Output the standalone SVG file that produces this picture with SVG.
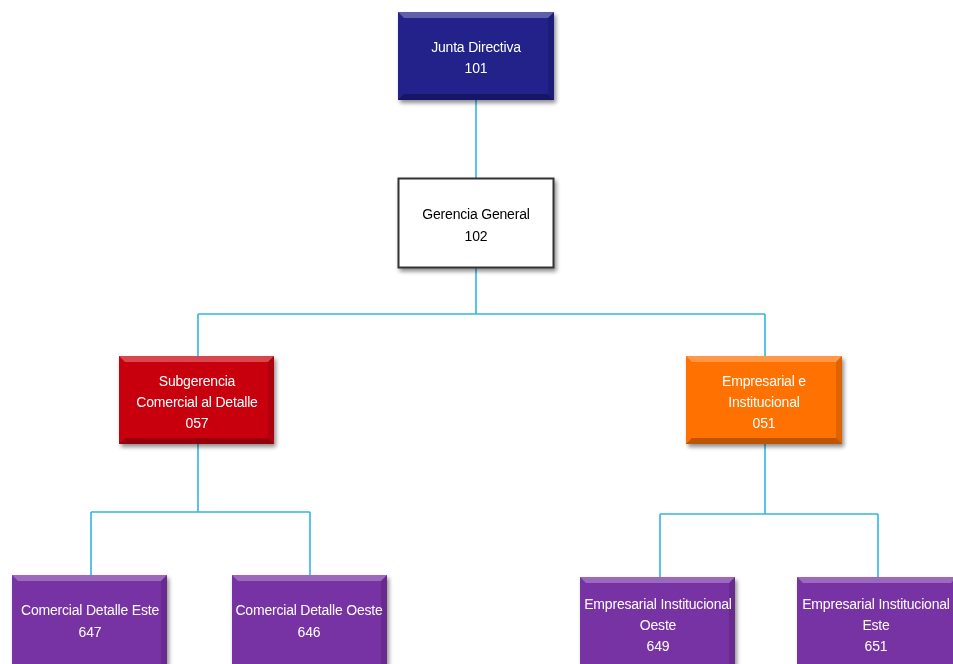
<svg xmlns="http://www.w3.org/2000/svg" width="953" height="664" viewBox="0 0 953 664">
<defs>
<filter id="sh" x="-10%" y="-10%" width="125%" height="130%">
<feGaussianBlur in="SourceAlpha" stdDeviation="2"/>
<feOffset dx="2" dy="3" result="b"/>
<feComponentTransfer><feFuncA type="linear" slope="0.45"/></feComponentTransfer>
<feMerge><feMergeNode/><feMergeNode in="SourceGraphic"/></feMerge>
</filter>
</defs>
<style>
.conn{fill:none;stroke:#33b5e5;stroke-width:1.6}
.t{font-family:"Liberation Sans",Arial,sans-serif;font-size:14px;text-anchor:middle;fill:#ffffff;letter-spacing:-0.2px}
.tb{fill:#000000}
.hl{fill:#ffffff;opacity:0.28}
.dk{fill:#000000;opacity:0.25}
.sd{fill:#000000;opacity:0.12}
</style>
<g id="connectors">
<path class="conn" d="M476,100 V178"/>
<path class="conn" d="M476,268 V314 M198,314 H765 M198,314 V356 M765,314 V356"/>
<path class="conn" d="M198,444 V512 M91,512 H310 M91,512 V575 M310,512 V575"/>
<path class="conn" d="M765,444 V514 M660,514 H878 M660,514 V577 M878,514 V577"/>
</g>
<g id="junta" filter="url(#sh)">
<rect x="398" y="12" width="156" height="88" fill="#21218a"/>
<polygon class="hl" points="398,12 554,12 548,18 404,18"/>
<polygon class="dk" points="398,100 554,100 548,94 404,94"/>
<polygon class="sd" points="554,12 554,100 548,94 548,18"/>
<text class="t" x="476" y="52">Junta Directiva</text>
<text class="t" x="476" y="73">101</text>
</g>
<g id="gerencia" filter="url(#sh)">
<rect x="398.5" y="178.5" width="155" height="89" fill="#ffffff" stroke="#333333" stroke-width="2"/>
<text class="t tb" x="476" y="219">Gerencia General</text>
<text class="t tb" x="476" y="241">102</text>
</g>
<g id="subgerencia" filter="url(#sh)">
<rect x="119" y="356" width="155" height="88" fill="#c8000b"/>
<polygon class="hl" points="119,356 274,356 268,362 125,362"/>
<polygon class="dk" points="119,444 274,444 268,438 125,438"/>
<polygon class="sd" points="274,356 274,444 268,438 268,362"/>
<text class="t" x="197" y="386">Subgerencia</text>
<text class="t" x="197" y="407">Comercial al Detalle</text>
<text class="t" x="197" y="428">057</text>
</g>
<g id="empresarial" filter="url(#sh)">
<rect x="686" y="356" width="156" height="88" fill="#ff7100"/>
<polygon class="hl" points="686,356 842,356 836,362 692,362"/>
<polygon class="dk" points="686,444 842,444 836,438 692,438"/>
<polygon class="sd" points="842,356 842,444 836,438 836,362"/>
<text class="t" x="764" y="386">Empresarial e</text>
<text class="t" x="764" y="407">Institucional</text>
<text class="t" x="764" y="428">051</text>
</g>
<g id="comercial-este" filter="url(#sh)">
<rect x="12" y="575" width="155" height="95" fill="#7732a3"/>
<polygon class="hl" points="12,575 167,575 161,581 18,581"/>
<polygon class="sd" points="167,575 167,670 161,670 161,581"/>
<text class="t" x="90" y="615">Comercial Detalle Este</text>
<text class="t" x="90" y="637">647</text>
</g>
<g id="comercial-oeste" filter="url(#sh)">
<rect x="232" y="575" width="155" height="95" fill="#7732a3"/>
<polygon class="hl" points="232,575 387,575 381,581 238,581"/>
<polygon class="sd" points="387,575 387,670 381,670 381,581"/>
<text class="t" x="309" y="615">Comercial Detalle Oeste</text>
<text class="t" x="309" y="637">646</text>
</g>
<g id="emp-oeste" filter="url(#sh)">
<rect x="580" y="577" width="155" height="95" fill="#7732a3"/>
<polygon class="hl" points="580,577 735,577 729,583 586,583"/>
<polygon class="sd" points="735,577 735,672 729,672 729,583"/>
<text class="t" x="658" y="609">Empresarial Institucional</text>
<text class="t" x="658" y="630">Oeste</text>
<text class="t" x="658" y="651">649</text>
</g>
<g id="emp-este" filter="url(#sh)">
<rect x="797" y="577" width="160" height="95" fill="#7732a3"/>
<polygon class="hl" points="797,577 957,577 951,583 803,583"/>
<text class="t" x="876" y="609">Empresarial Institucional</text>
<text class="t" x="876" y="630">Este</text>
<text class="t" x="876" y="651">651</text>
</g>
</svg>
